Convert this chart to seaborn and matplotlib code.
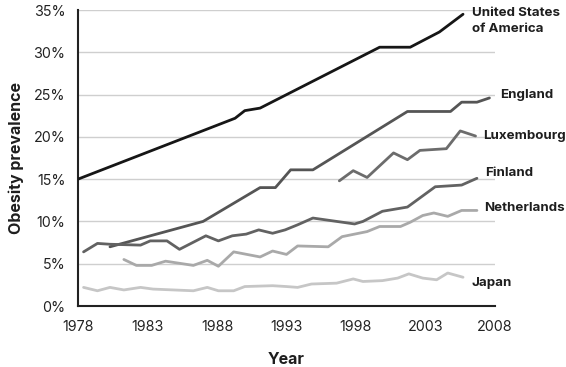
import numpy as np
import pandas as pd
import seaborn as sns
import matplotlib.pyplot as plt

# values (year, % obese)
usa_years = [1978, 1989.3, 1990.0, 1991.1, 1999.7, 2001.9, 2004.0, 2005.7]
usa_vals = [15.0, 22.2, 23.1, 23.4, 30.6, 30.6, 32.4, 34.5]

england_years = [1980.3, 1987.0, 1991.1, 1992.2, 1993.3, 1994.9, 2001.7, 2004.8, 2005.6, 2006.7, 2007.6]
england_vals = [7.0, 10.0, 14.0, 14.0, 16.1, 16.1, 23.0, 23.0, 24.1, 24.1, 24.6]

lux_years = [1996.8, 1997.8, 1998.8, 2000.7, 2001.7, 2002.6, 2004.5, 2005.5, 2006.6]
lux_vals = [14.8, 16.0, 15.2, 18.1, 17.3, 18.4, 18.6, 20.7, 20.1]

finland_years = [1978.4, 1979.4, 1980.3, 1982.5, 1983.2, 1984.4, 1985.3, 1987.2, 1988.1, 1989.1,
                 1990.1, 1991.0, 1992.0, 1992.9, 1993.8, 1994.9, 1997.9, 1998.5, 1999.9, 2001.7,
                 2003.7, 2005.6, 2006.7]
finland_vals = [6.4, 7.4, 7.3, 7.2, 7.7, 7.7, 6.7, 8.3, 7.7, 8.3,
                8.5, 9.0, 8.6, 9.0, 9.6, 10.4, 9.7, 10.0, 11.2, 11.7,
                14.1, 14.3, 15.1]

neth_years = [1981.3, 1982.2, 1983.3, 1984.3, 1986.3, 1987.3, 1988.1, 1989.2, 1991.1, 1992.0,
              1993.0, 1993.8, 1996.0, 1997.0, 1998.8, 1999.7, 2001.2, 2001.9, 2002.8, 2003.6,
              2004.6, 2005.6, 2006.7]
neth_vals = [5.5, 4.8, 4.8, 5.3, 4.8, 5.4, 4.7, 6.4, 5.8, 6.5,
             6.1, 7.1, 7.0, 8.2, 8.8, 9.4, 9.4, 9.9, 10.7, 11.0,
             10.6, 11.3, 11.3]

japan_years = [1978.4, 1979.4, 1980.3, 1981.3, 1982.5, 1983.4, 1986.3, 1987.3, 1988.1, 1989.2,
               1990.0, 1992.0, 1993.0, 1993.8, 1994.8, 1996.6, 1997.8, 1998.5, 1999.9, 2001.0,
               2001.8, 2002.8, 2003.8, 2004.6, 2005.7]
japan_vals = [2.2, 1.8, 2.2, 1.9, 2.2, 2.0, 1.8, 2.2, 1.8, 1.8,
              2.3, 2.4, 2.3, 2.2, 2.6, 2.7, 3.2, 2.9, 3.0, 3.3,
              3.8, 3.3, 3.1, 3.9, 3.4]

countries = ["United States\nof America", "England", "Luxembourg", "Finland", "Netherlands", "Japan"]
colors = ["#161616", "#555555", "#6c6c6c", "#626262", "#a9a9a9", "#c6c6c6"]
label_pos = [(472, 21), (500, 95), (483, 136), (485, 173), (484, 208), (471, 283)]  # pixels

series = [(usa_years, usa_vals), (england_years, england_vals), (lux_years, lux_vals),
          (finland_years, finland_vals), (neth_years, neth_vals), (japan_years, japan_vals)]

sns.set_style("white")
plt.rcParams['font.family'] = ['Inter', 'DejaVu Sans']

W, H = 566, 367
fig = plt.figure(figsize=(W / 100, H / 100), dpi=100)
ax = fig.add_axes([78 / W, 1 - 306 / H, (495 - 78) / W, (306 - 10) / H])

for (yrs, vals), name, c in zip(series, countries, colors):
    df = pd.DataFrame({"year": yrs, "value": vals})
    sns.lineplot(data=df, x="year", y="value", color=c, lw=2.0, ax=ax,
                 estimator=None, sort=False, zorder=3)

for name, (px, py) in zip(countries, label_pos):
    fig.text(px / W, 1 - py / H, name, fontsize=9.6, fontweight="bold",
             color="#1e1e1e", va="center", ha="left", linespacing=1.35)

ax.set_xlim(1978, 2008)
ax.set_ylim(0, 35)
ax.set_xticks(np.arange(1978, 2009, 5))
ax.set_yticks(np.arange(0, 36, 5))
ax.set_yticklabels([f"{v}%" for v in range(0, 36, 5)])
for y in range(5, 36, 5):
    ax.axhline(y, color="#cfcfcf", lw=1.0, zorder=1)

for s in ["top", "right"]:
    ax.spines[s].set_visible(False)
for s in ["left", "bottom"]:
    ax.spines[s].set_color("#222222")
    ax.spines[s].set_linewidth(1.5)
ax.tick_params(axis="both", direction="inout", length=10, width=1.3, color="#222222",
               labelsize=10.3, labelcolor="#222222")
ax.tick_params(axis="x", pad=5)
ax.tick_params(axis="y", pad=4)

ax.set_xlabel("Year", fontsize=11.5, fontweight="bold", color="#1e1e1e", labelpad=13)
ax.set_ylabel("Obesity prevalence", fontsize=11.5, fontweight="bold", color="#1e1e1e", labelpad=7)

fig.savefig("out.png", dpi=100)
